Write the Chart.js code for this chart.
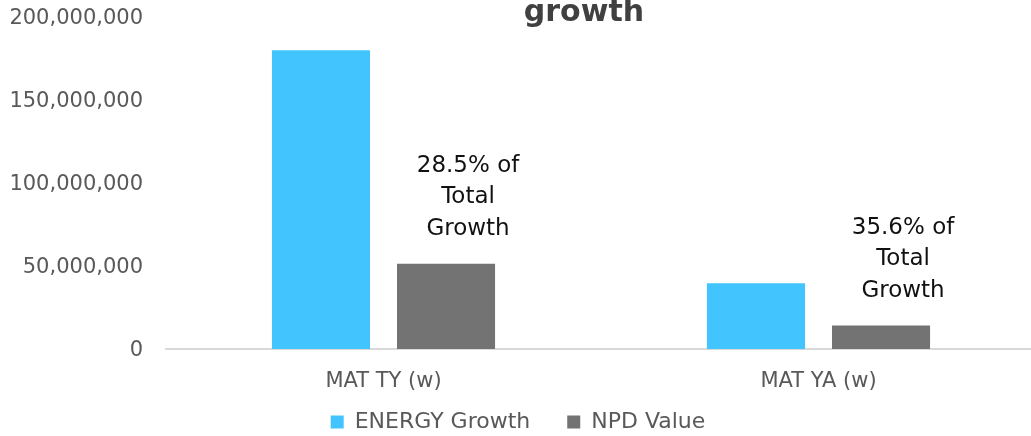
<!DOCTYPE html>
<html>
<head>
<meta charset="utf-8">
<title>ENERGY growth</title>
<script src="https://cdn.jsdelivr.net/npm/chart.js@4.4.1/dist/chart.umd.min.js"></script>
<style>
    html, body { margin: 0; padding: 0; background: #ffffff; overflow: hidden; }
    #wrap { width: 1031px; height: 436px; overflow: hidden; position: relative; }
    canvas { display: block; }
</style>
</head>
<body>
<div id="wrap">
    <canvas id="growth-chart" width="1040" height="443"></canvas>
</div>
<script>
// Chart data
const periods = ['MAT TY (w)', 'MAT YA (w)'];
const energyGrowth = [180000000, 39600000];
const npdValue = [51300000, 14100000];
const yTicks = [0, 50000000, 100000000, 150000000, 200000000];

document.addEventListener('DOMContentLoaded', function () {
    const FONT = 'DejaVu Sans';
    const AXIS_TEXT = '#595959';

    // Heading line that sits at the very top of the canvas
    const headingPlugin = {
        id: 'heading',
        afterDraw(chart) {
            const ctx = chart.ctx;
            ctx.save();
            ctx.font = 'bold 30px "' + FONT + '"';
            ctx.fillStyle = '#404040';
            ctx.textAlign = 'center';
            ctx.textBaseline = 'alphabetic';
            ctx.fillText('growth', 584, 21);
            ctx.restore();
        }
    };

    // "x% of Total Growth" note above each NPD bar
    const shareLabelPlugin = {
        id: 'shareLabels',
        afterDatasetsDraw(chart) {
            const ctx = chart.ctx;
            const meta = chart.getDatasetMeta(1);
            ctx.save();
            ctx.font = '23px "' + FONT + '"';
            ctx.fillStyle = '#111111';
            ctx.textAlign = 'center';
            ctx.textBaseline = 'middle';
            meta.data.forEach((bar, i) => {
                const share = (npdValue[i] / energyGrowth[i] * 100).toFixed(1);
                const lines = [share + '% of', 'Total', 'Growth'];
                const x = bar.x + 22;
                const lastY = bar.y - 35;
                lines.forEach((line, j) => {
                    ctx.fillText(line, x, lastY - (lines.length - 1 - j) * 31.5);
                });
            });
            ctx.restore();
        }
    };

    // Default legend items, with a little extra room after the first one
    function legendItems(chart) {
        const items = Chart.defaults.plugins.legend.labels.generateLabels(chart);
        items[0].text += '   ';
        return items;
    }

    const ctx = document.getElementById('growth-chart').getContext('2d');
    new Chart(ctx, {
        type: 'bar',
        data: {
            labels: periods,
            datasets: [{
                label: 'ENERGY Growth',
                data: energyGrowth,
                backgroundColor: '#42c4ff',
                categoryPercentage: 0.575,
                barPercentage: 0.784
            }, {
                label: 'NPD Value',
                data: npdValue,
                backgroundColor: '#737373',
                categoryPercentage: 0.575,
                barPercentage: 0.784
            }]
        },
        options: {
            responsive: false,
            animation: false,
            layout: { padding: { top: 17, right: 4, left: 0, bottom: 0 } },
            scales: {
                x: {
                    grid: { display: false, drawTicks: false },
                    border: { display: true, color: '#d9d9d9', width: 2 },
                    ticks: {
                        color: AXIS_TEXT,
                        font: { family: FONT, size: 21 },
                        padding: 20
                    },
                    afterFit(scale) { scale.height = 46; }
                },
                y: {
                    min: 0,
                    max: 200000000,
                    grid: { display: false, drawTicks: false },
                    border: { display: false },
                    afterBuildTicks(scale) {
                        scale.ticks = yTicks.map(v => ({ value: v }));
                    },
                    ticks: {
                        color: AXIS_TEXT,
                        font: { family: FONT, size: 21 },
                        padding: 23,
                        labelOffset: 2,
                        callback: value => value.toLocaleString('en-US')
                    },
                    afterFit(scale) {
                        scale.width = 166;
                        scale.paddingTop = 0;
                        scale.paddingBottom = 0;
                    }
                }
            },
            plugins: {
                legend: {
                    position: 'bottom',
                    labels: {
                        color: AXIS_TEXT,
                        font: { family: FONT, size: 22 },
                        boxWidth: 13,
                        boxHeight: 13,
                        padding: 16,
                        generateLabels: legendItems
                    }
                },
                tooltip: { enabled: false }
            }
        },
        plugins: [headingPlugin, shareLabelPlugin]
    });
});
</script>
</body>
</html>
